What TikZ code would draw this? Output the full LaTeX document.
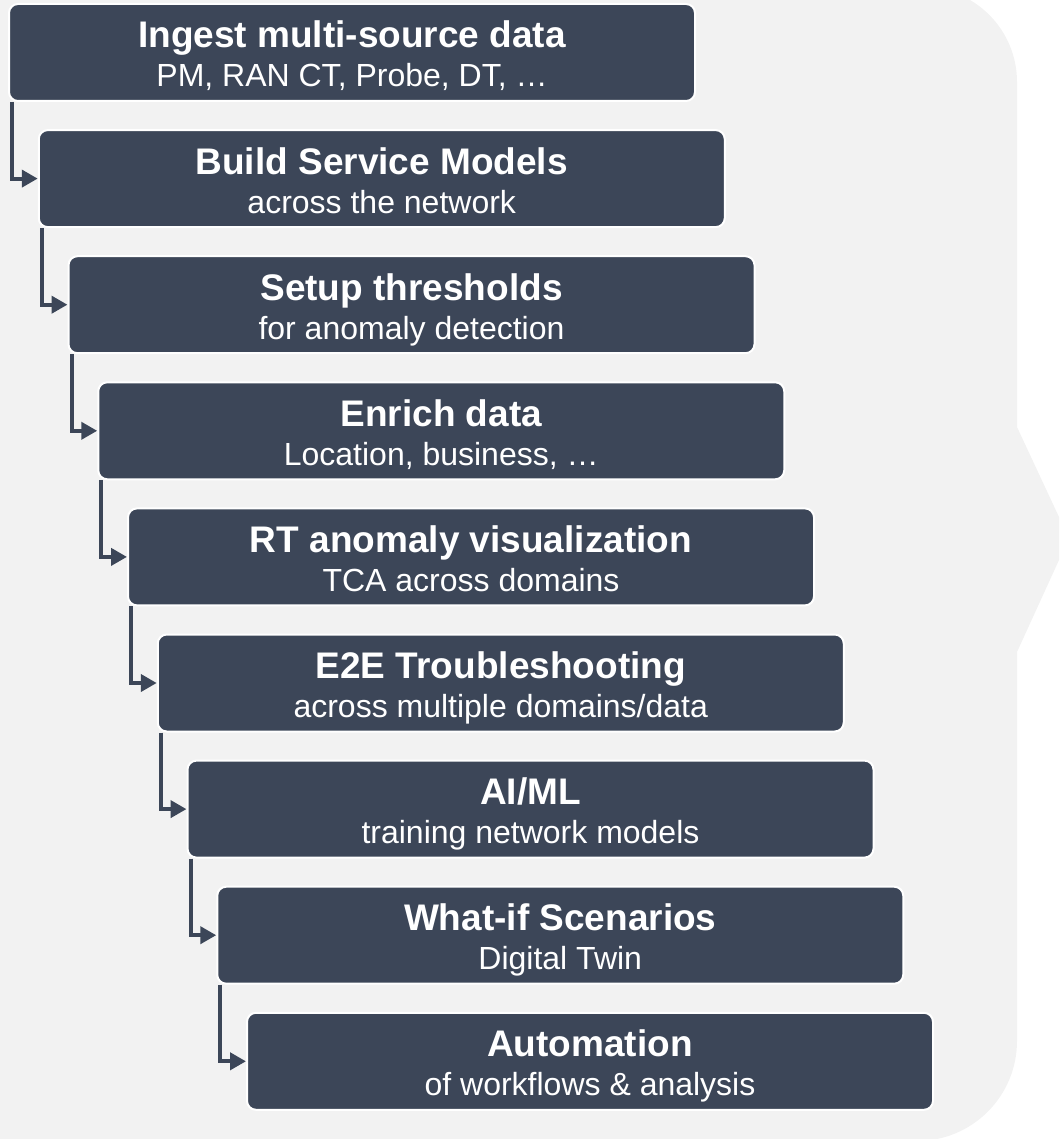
\documentclass[tikz,border=0pt]{standalone}
\usepackage{fontspec}
\setmainfont{Liberation Sans}
\usetikzlibrary{arrows.meta}
\definecolor{bgc}{HTML}{F2F2F2}
\definecolor{boxc}{HTML}{3C4658}
\tikzset{
  stepbox/.style={rectangle, rounded corners=9pt, fill=boxc, draw=white, line width=2pt,
    minimum width=686pt, minimum height=97pt, inner sep=0pt, text=white, align=center,
    font=\fontsize{32}{39}\selectfont},
  flow/.style={draw=boxc, line width=4pt, -{Triangle[length=16pt,width=17pt]}}
}
\newcommand{\boxtext}[2]{{\fontsize{37}{39}\selectfont\bfseries\rule{0pt}{38pt}#1}\\#2\rule[-8pt]{0pt}{8pt}}
\begin{document}
\begin{tikzpicture}[x=1pt,y=1pt]
\useasboundingbox (0,0) rectangle (1059,-1139);
\fill[bgc] (-10,13) -- (922,13) arc[start angle=90,end angle=0,radius=95]
  -- (1017,-427) -- (1059,-517) -- (1059,-560) -- (1017,-652)
  -- (1017,-1041) arc[start angle=0,end angle=-90,radius=100] -- (-10,-1141) -- cycle;
\foreach \i/\t/\s in {
  0/Ingest multi-source data/{PM, RAN CT, Probe, DT, …},
  1/Build Service Models/across the network,
  2/Setup thresholds/for anomaly detection,
  3/Enrich data/{Location, business, …},
  4/RT anomaly visualization/TCA across domains,
  5/E2E Troubleshooting/across multiple domains\slash data,
  6/AI\slash ML/training network models,
  7/What-if Scenarios/Digital Twin,
  8/Automation/of workflows \& analysis}
{
  \node[stepbox] (b\i) at ({9+29.75*\i+343},{-(4+126.1*\i+48.5)}) {\boxtext{\t}{\s}};
}
\foreach \i [evaluate=\i as \j using int(\i+1)] in {0,...,7}
{
  \draw[flow] ([xshift=4pt]b\i.south west) |- (b\j.west);
}
\end{tikzpicture}
\end{document}
